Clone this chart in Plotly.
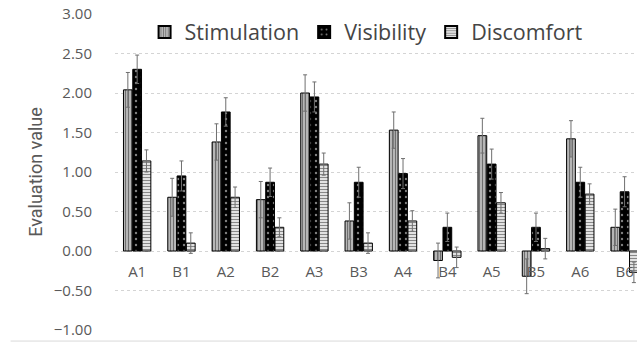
import plotly.graph_objects as go

categories = ["A1", "B1", "A2", "B2", "A3", "B3", "A4", "B4", "A5", "B5", "A6", "B6"]
stimulation = [2.04, 0.68, 1.38, 0.65, 2.00, 0.38, 1.53, -0.12, 1.46, -0.32, 1.42, 0.30]
stimulation_err = [0.22, 0.24, 0.23, 0.23, 0.23, 0.23, 0.23, 0.22, 0.22, 0.22, 0.23, 0.23]
visibility = [2.30, 0.95, 1.76, 0.87, 1.95, 0.87, 0.98, 0.30, 1.10, 0.30, 0.87, 0.75]
visibility_err = [0.18, 0.19, 0.18, 0.18, 0.19, 0.19, 0.19, 0.18, 0.19, 0.18, 0.19, 0.19]
discomfort = [1.14, 0.10, 0.68, 0.30, 1.10, 0.10, 0.38, -0.08, 0.61, 0.03, 0.72, -0.27]
discomfort_err = [0.14, 0.13, 0.13, 0.12, 0.14, 0.13, 0.13, 0.13, 0.13, 0.13, 0.13, 0.13]
y_ticks = [-1.0, -0.5, 0.0, 0.5, 1.0, 1.5, 2.0, 2.5, 3.0]

GRAY = "#595959"
ERR = dict(type="data", color="#6f6f6f", thickness=1, width=2)

fig = go.Figure()
fig.add_bar(
    name="Stimulation", x=categories, y=stimulation,
    error_y=dict(ERR, array=stimulation_err),
    marker=dict(color="#c0c0c0", line=dict(color="black", width=1),
                pattern=dict(shape="|", fgcolor="#1a1a1a", bgcolor="#c4c4c4", size=3, solidity=0.45)),
)
fig.add_bar(
    name="Visibility", x=categories, y=visibility,
    error_y=dict(ERR, array=visibility_err),
    marker=dict(color="black", line=dict(color="black", width=1),
                pattern=dict(shape=".", fgcolor="white", bgcolor="black", size=6, solidity=0.12)),
)
fig.add_bar(
    name="Discomfort", x=categories, y=discomfort,
    error_y=dict(ERR, array=discomfort_err),
    marker=dict(color="white", line=dict(color="black", width=1),
                pattern=dict(shape="-", fgcolor="#111111", bgcolor="white", size=3, solidity=0.5)),
)

fig.update_layout(
    width=637, height=343,
    margin=dict(l=115, r=0, t=14, b=13, autoexpand=False),
    paper_bgcolor="white", plot_bgcolor="white",
    barmode="group", bargap=0.37, bargroupgap=0.06,
    font=dict(family="Open Sans", color=GRAY),
    showlegend=True,
    legend=dict(orientation="h", x=0.481, xanchor="center", y=0.943, yanchor="middle",
                font=dict(size=21.5, color="#454545"), bgcolor="rgba(0,0,0,0)",
                itemsizing="constant", traceorder="normal"),
    xaxis=dict(
        range=[-0.5, 11.28], anchor="free", position=0.25, automargin=False,
        showgrid=False, showline=False, zeroline=False, ticks="",
        tickfont=dict(size=15, color=GRAY), ticklabelstandoff=10,
        ticklabeloverflow="allow",
    ),
    yaxis=dict(
        range=[-1, 3.0001], tickvals=y_ticks, tickformat=".2f", automargin=False,
        showgrid=True, gridcolor="#d4d4d4", griddash="dot", gridwidth=1,
        zeroline=False, showline=False, ticks="",
        tickfont=dict(size=15, color=GRAY), ticklabelstandoff=22,
        ticklabeloverflow="allow",
        title=dict(text="Evaluation value", standoff=6,
                   font=dict(family="Liberation Sans Narrow, Roboto", size=18, color=GRAY)),
    ),
    shapes=[dict(type="line", xref="paper", yref="paper", x0=-0.2, x1=1, y0=-0.035, y1=-0.035,
                 line=dict(color="#d9d9d9", width=1))],
)

# remove the browser's default 8px body margin so the figure fills the window exactly
fig.write_html("out.html", config={"displayModeBar": False},
               post_script="document.body.style.margin='0';")
